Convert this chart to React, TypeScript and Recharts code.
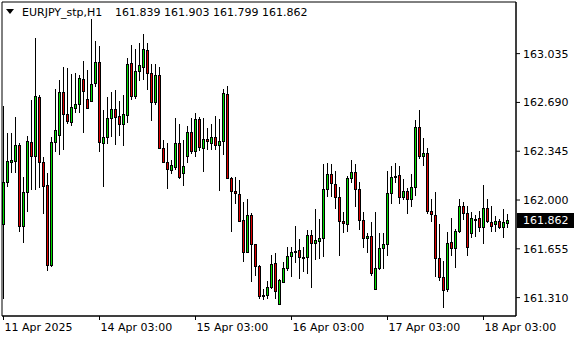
import {
  Bar,
  ComposedChart,
  ReferenceArea,
  ReferenceLine,
  XAxis,
  YAxis,
} from 'recharts';

// EURJPY_stp, H1 bars
const OPEN = [
  161.830, 162.130, 162.271, 162.278, 162.387, 161.818, 162.054, 162.408, 162.314, 162.726,
  162.266, 162.106, 161.540, 162.408, 162.462, 162.764, 162.606, 162.549, 162.653, 162.679,
  162.856, 162.714, 162.698, 162.825, 162.976, 162.405, 162.443, 162.578, 162.641, 162.594,
  162.540, 162.599, 162.967, 162.738, 162.910, 162.943, 163.058, 162.896, 162.695, 162.884,
  162.370, 162.271, 162.212, 162.236, 162.401, 162.189, 162.311, 162.479, 162.344, 162.573,
  162.365, 162.429, 162.405, 162.446, 162.387, 162.417, 162.747, 162.153, 162.061, 162.042,
  161.859, 161.630, 161.894, 161.686, 161.533, 161.330, 161.328, 161.382, 161.552, 161.264,
  161.418, 161.517, 161.604, 161.630, 161.646, 161.599, 161.595, 161.752, 161.694, 161.708,
  161.729, 162.078, 162.184, 162.113, 162.019, 161.851, 161.830, 162.153, 162.196, 162.075,
  161.859, 161.729, 161.745, 161.368, 161.517, 161.658, 161.686, 162.047, 162.160, 162.177,
  162.019, 162.066, 162.007, 162.094, 162.519, 162.311, 162.330, 161.925, 161.892, 161.587,
  161.453, 161.368, 161.701, 161.658, 161.781, 161.960, 161.906, 161.764, 161.861, 161.870,
  161.807, 161.941, 161.842, 161.828, 161.854, 161.811, 161.839,
];
const HIGH = [
  162.665, 162.471, 162.471, 162.589, 162.401, 162.165, 162.453, 162.707, 163.143, 162.743,
  162.306, 162.189, 162.448, 162.783, 162.849, 162.943, 162.931, 162.891, 162.898, 162.884,
  162.985, 162.919, 163.278, 163.127, 163.091, 162.637, 162.731, 162.766, 162.778, 162.702,
  162.743, 163.002, 163.096, 163.066, 163.108, 163.174, 163.108, 162.962, 162.962, 162.943,
  162.424, 162.405, 162.283, 162.582, 162.535, 162.424, 162.526, 162.578, 162.618, 162.589,
  162.578, 162.512, 162.535, 162.594, 162.573, 162.783, 162.806, 162.160, 162.165, 162.141,
  161.983, 162.007, 161.910, 161.691, 161.538, 161.368, 161.427, 161.611, 161.623, 161.439,
  161.559, 161.670, 161.670, 161.816, 161.722, 161.670, 161.788, 161.788, 161.936, 161.866,
  162.255, 162.264, 162.255, 162.205, 162.094, 161.913, 162.172, 162.283, 162.255, 162.130,
  161.913, 161.769, 161.847, 161.917, 161.764, 161.764, 162.205, 162.243, 162.259, 162.240,
  162.146, 162.083, 162.184, 162.566, 162.637, 162.436, 162.365, 162.005, 162.054, 161.828,
  161.569, 161.771, 161.870, 161.793, 162.005, 161.983, 161.960, 161.913, 161.894, 161.925,
  162.106, 162.005, 161.960, 161.887, 161.863, 161.934, 161.903,
];
const LOW = [
  161.297, 162.094, 162.189, 162.189, 161.776, 161.698, 161.915, 162.071, 162.071, 162.083,
  161.899, 161.500, 161.529, 162.342, 162.318, 162.354, 162.537, 162.523, 162.613, 162.613,
  162.471, 162.648, 162.693, 162.802, 162.342, 162.094, 162.396, 162.448, 162.389, 162.453,
  162.384, 162.542, 162.707, 162.712, 162.842, 162.849, 162.778, 162.561, 162.672, 162.365,
  162.259, 162.075, 162.182, 162.212, 162.146, 162.099, 162.264, 162.323, 162.302, 162.349,
  162.196, 162.354, 162.354, 162.354, 162.066, 162.318, 162.151, 161.776, 161.972, 161.847,
  161.559, 161.623, 161.418, 161.465, 161.297, 161.293, 161.297, 161.368, 161.297, 161.260,
  161.413, 161.500, 161.458, 161.552, 161.444, 161.493, 161.477, 161.375, 161.576, 161.580,
  161.595, 162.024, 162.024, 161.934, 161.606, 161.764, 161.771, 162.123, 161.953, 161.788,
  161.663, 161.628, 161.465, 161.363, 161.505, 161.510, 161.604, 161.972, 162.118, 161.969,
  162.000, 161.899, 161.953, 162.031, 162.290, 162.243, 161.899, 161.847, 161.453, 161.430,
  161.234, 161.352, 161.606, 161.521, 161.764, 161.859, 161.606, 161.729, 161.741, 161.771,
  161.686, 161.835, 161.771, 161.771, 161.793, 161.734, 161.799,
];
const CLOSE = [
  162.130, 162.273, 162.283, 162.387, 161.818, 162.054, 162.415, 162.314, 162.733, 162.266,
  162.101, 161.540, 162.408, 162.493, 162.764, 162.606, 162.556, 162.655, 162.679, 162.860,
  162.773, 162.653, 162.818, 162.976, 162.413, 162.443, 162.578, 162.641, 162.589, 162.535,
  162.606, 162.959, 162.738, 162.912, 162.952, 163.066, 162.896, 162.695, 162.884, 162.370,
  162.266, 162.217, 162.248, 162.401, 162.160, 162.243, 162.479, 162.349, 162.573, 162.375,
  162.429, 162.415, 162.446, 162.387, 162.417, 162.754, 162.153, 162.061, 162.047, 161.851,
  161.630, 161.894, 161.686, 161.533, 161.321, 161.321, 161.382, 161.547, 161.356, 161.434,
  161.517, 161.606, 161.630, 161.639, 161.595, 161.587, 161.752, 161.694, 161.717, 161.731,
  162.078, 162.184, 162.118, 162.024, 161.851, 161.835, 162.153, 162.196, 162.075, 161.859,
  161.729, 161.745, 161.486, 161.517, 161.658, 161.686, 162.047, 162.160, 162.170, 162.019,
  162.066, 162.007, 162.094, 162.519, 162.311, 162.330, 161.925, 161.899, 161.587, 161.453,
  161.363, 161.694, 161.658, 161.781, 161.960, 161.906, 161.670, 161.870, 161.866, 161.807,
  161.941, 161.854, 161.818, 161.851, 161.811, 161.842, 161.862,
];

const TIME_TICKS = [0, 24, 48, 72, 96, 120];
const TIME_LABELS = ['11 Apr 2025', '14 Apr 03:00', '15 Apr 03:00', '16 Apr 03:00', '17 Apr 03:00', '18 Apr 03:00'];
const PRICE_TICKS = [161.31, 161.655, 162.0, 162.345, 162.69, 163.035];
const PRICE_DOMAIN = [161.18, 163.4];

const SYMBOL = 'EURJPY_stp,H1';
const LAST_BAR = OPEN.length - 1;

const BULL = '#00dd00';
const BEAR = '#dd0000';
const FONT = 'DejaVu Sans';

const data = OPEN.map((o, i) => ({
  i,
  o,
  h: HIGH[i],
  l: LOW[i],
  c: CLOSE[i],
  range: [LOW[i], HIGH[i]],
}));

function Candle(props: any) {
  const { x, y, width, height, payload } = props;
  if (!payload || x == null || y == null) return null;
  const { o, h, l, c } = payload;
  const y0 = Math.min(y, y + height);
  const span = Math.abs(height) || 1;
  const py = (p: number) => y0 + ((h - p) / (h - l || 1)) * span;
  const cx = x + width / 2;
  const left = Math.round(cx - 1.5);
  const wTop = Math.round(y0);
  const wBot = Math.round(y0 + span);
  const top = Math.round(py(Math.max(o, c)));
  const bot = Math.round(py(Math.min(o, c)));

  return (
    <g shapeRendering="crispEdges">
      <rect x={left + 1} y={wTop} width={1} height={Math.max(wBot - wTop, 1)} fill="#000" />
      <rect x={left} y={top} width={3} height={bot - top + 1} fill="#000" />
      {bot - top >= 2 && (
        <rect x={left + 1} y={top + 1} width={1} height={bot - top - 1} fill={c >= o ? BULL : BEAR} />
      )}
    </g>
  );
}

function PriceTag(props: any) {
  const vb = props.viewBox;
  if (!vb) return null;
  const right = vb.x + vb.width;
  const yy = Math.round(vb.y);
  return (
    <g>
      <rect x={right + 1} y={yy - 7} width={57} height={15} fill="#000" shapeRendering="crispEdges" />
      <text x={right + 7} y={yy} dy="0.355em" fill="#fff" fontSize={11} fontFamily={FONT}>
        {CLOSE[LAST_BAR].toFixed(3)}
      </text>
    </g>
  );
}

export default function App() {
  const header = [OPEN[LAST_BAR], HIGH[LAST_BAR], LOW[LAST_BAR], CLOSE[LAST_BAR]]
    .map((v) => v.toFixed(3))
    .join(' ');

  return (
    <div style={{ position: 'absolute', left: 0, top: 0, background: '#fff' }}>
      <ComposedChart
        width={580}
        height={340}
        data={data}
        margin={{ top: 2, right: 0, bottom: 0, left: 2 }}
        style={{ fontFamily: FONT }}
      >
        <XAxis
          dataKey="i"
          type="number"
          domain={[-0.375, 128.125]}
          allowDataOverflow
          ticks={TIME_TICKS}
          interval={0}
          height={24}
          tickSize={4}
          tickMargin={3}
          stroke="#000"
          tick={{ fill: '#000', fontSize: 11, textAnchor: 'start', dx: 1 }}
          tickFormatter={(v) => TIME_LABELS[TIME_TICKS.indexOf(v)] ?? ''}
        />
        <YAxis
          orientation="right"
          type="number"
          domain={PRICE_DOMAIN}
          allowDataOverflow
          ticks={PRICE_TICKS}
          interval={0}
          width={64}
          tickSize={4}
          tickMargin={3}
          stroke="#000"
          tick={{ fill: '#000', fontSize: 11 }}
          tickFormatter={(v) => v.toFixed(3)}
        />
        <ReferenceArea
          y1={PRICE_DOMAIN[0]}
          y2={PRICE_DOMAIN[1]}
          fill="none"
          stroke="#000"
          fillOpacity={0}
          ifOverflow="visible"
        />
        <Bar
          dataKey="range"
          barSize={3}
          shape={Candle}
          isAnimationActive={false}
        />
        <ReferenceLine
          y={CLOSE[LAST_BAR]}
          stroke="none"
          ifOverflow="visible"
          label={PriceTag}
        />
        <polygon points="6,9 14,9 10,14" fill="#000" />
        <text x={22} y={16} fontSize={11} fontFamily={FONT} fill="#000">
          {SYMBOL}
        </text>
        <text x={115} y={16} fontSize={11} fontFamily={FONT} fill="#000">
          {header}
        </text>
      </ComposedChart>
    </div>
  );
}
